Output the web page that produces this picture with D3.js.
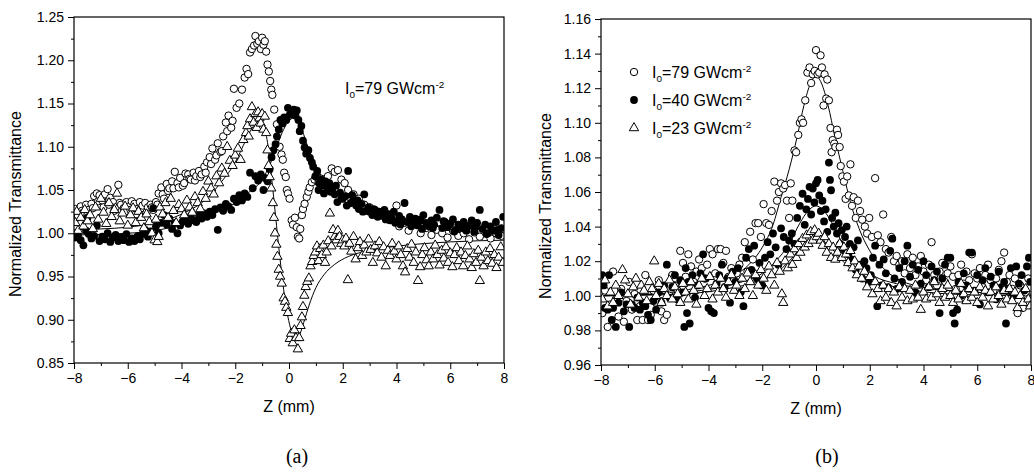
<!DOCTYPE html>
<html>
<head>
<meta charset="utf-8">
<title>Z-scan</title>
<script src="https://cdn.jsdelivr.net/npm/d3@7"></script>
<style>
  body { margin: 0; background: #fff; }
  text { font-family: Arial, "Liberation Sans", sans-serif; fill: #000; }
</style>
</head>
<body>
<script>
// ---- panel (a) data: [z in mm, normalized transmittance] ----
var a79 = [[-7.95,1.028],[-7.9,1.018],[-7.85,1.020],[-7.75,1.031],[-7.7,1.026],[-7.65,1.024],[-7.55,1.033],[-7.5,1.021],[-7.45,1.027],[-7.35,1.034],[-7.3,1.029],[-7.25,1.043],[-7.15,1.046],[-7.1,1.037],[-7.05,1.044],[-6.95,1.038],[-6.9,1.030],[-6.85,1.045],[-6.75,1.051],[-6.7,1.033],[-6.65,1.041],[-6.55,1.036],[-6.5,1.026],[-6.45,1.030],[-6.35,1.056],[-6.3,1.035],[-6.25,1.033],[-6.15,1.029],[-6.1,1.025],[-6.05,1.036],[-5.95,1.031],[-5.9,1.027],[-5.85,1.037],[-5.75,1.034],[-5.7,1.022],[-5.65,1.028],[-5.55,1.036],[-5.5,1.029],[-5.45,1.032],[-5.35,1.035],[-5.3,1.024],[-5.25,1.030],[-5.15,1.033],[-5.1,1.030],[-5.05,1.027],
  [-4.95,1.036],[-4.9,1.033],[-4.85,1.046],[-4.75,1.053],[-4.7,1.045],[-4.65,1.040],[-4.55,1.057],[-4.5,1.049],[-4.45,1.052],[-4.35,1.060],[-4.3,1.052],[-4.25,1.071],[-4.15,1.058],[-4.1,1.053],[-4.05,1.064],[-3.95,1.055],[-3.9,1.058],[-3.85,1.069],[-3.75,1.068],[-3.7,1.063],[-3.65,1.062],[-3.55,1.070],[-3.5,1.061],[-3.45,1.066],[-3.35,1.072],[-3.3,1.065],[-3.25,1.068],[-3.15,1.077],[-3.1,1.070],[-3.05,1.082],[-2.95,1.088],[-2.9,1.080],[-2.85,1.098],[-2.75,1.085],[-2.7,1.090],[-2.65,1.104],[-2.55,1.094],[-2.5,1.095],[-2.45,1.112],[-2.35,1.128],[-2.3,1.118],[-2.25,1.136],[-2.15,1.122],[-2.1,1.130],[-2.05,1.167],[-1.95,1.145],[-1.85,1.150],[-1.75,1.166],[-1.65,1.180],[-1.58,1.190],[-1.52,1.184],[-1.45,1.209],[-1.38,1.213],[-1.3,1.217],[-1.25,1.228],[-1.18,1.219],[-1.12,1.222],[-1.05,1.213],[-1.0,1.226],[-0.95,1.218],[-0.9,1.222],[-0.85,1.210],[-0.8,1.195],[-0.75,1.187],[-0.7,1.176],[-0.66,1.166],[-0.62,1.160],[-0.55,1.143],[-0.45,1.126],[-0.35,1.100],[-0.28,1.091],[-0.23,1.085],[-0.18,1.070],[-0.12,1.065],[-0.08,1.050],[-0.04,1.046],[0.02,1.040],[0.1,1.015],[0.15,1.010],[0.22,1.018],[0.29,1.007],[0.33,0.996],[0.38,0.994],[0.42,1.005],[0.48,1.021],[0.52,1.028],[0.58,1.034],[0.66,1.042],[0.72,1.048],[0.77,1.053],[0.85,1.059],[0.95,1.062],[1.03,1.065],[1.1,1.059],[1.2,1.063],[1.3,1.060],[1.45,1.066],[1.59,1.075],[1.7,1.071],[1.82,1.073],[1.95,1.062],[2.07,1.058],[2.2,1.050],[2.4,1.045],[2.6,1.040],[2.8,1.033],[3.0,1.030],[3.2,1.026],[3.4,1.024],[3.6,1.022],[3.8,1.020],[4.0,1.032],[4.1,1.008],[4.2,1.015],[4.3,1.012],[4.45,1.003],[4.6,1.010],[4.75,1.010],[4.9,1.000],[5.1,1.006],[5.3,0.998],[5.5,1.004],[5.7,1.000],[5.9,0.995],[6.1,1.003],[6.3,0.997],[6.5,1.000],[6.7,0.993],[6.9,1.001],[7.1,0.996],[7.3,1.004],[7.5,0.994],[7.7,1.000],[7.9,0.997]];

var a40 = [[-7.95,0.995],[-7.85,0.998],[-7.75,0.992],[-7.65,0.986],[-7.55,1.003],[-7.5,1.018],[-7.45,0.999],[-7.35,0.994],[-7.25,0.997],[-7.15,1.009],[-7.05,0.991],[-6.95,0.996],[-6.85,0.993],[-6.75,1.000],[-6.65,0.990],[-6.55,0.995],[-6.45,0.998],[-6.35,0.991],[-6.25,0.995],[-6.15,0.992],[-6.05,0.999],[-5.95,0.990],[-5.85,0.994],[-5.75,0.991],[-5.65,0.996],[-5.55,0.993],[-5.45,0.999],[-5.35,1.004],[-5.25,0.996],[-5.15,1.002],[-5.05,1.029],[-4.95,1.008],[-4.85,1.000],[-4.75,1.012],[-4.65,1.021],[-4.55,1.010],[-4.45,1.017],[-4.35,1.005],[-4.25,1.012],[-4.15,1.000],[-4.05,1.009],[-3.95,1.014],[-3.85,1.018],[-3.75,1.011],[-3.65,1.020],[-3.55,1.015],[-3.45,1.013],[-3.35,1.021],[-3.25,1.017],[-3.15,1.023],[-3.05,1.019],[-2.95,1.025],[-2.85,1.021],[-2.75,1.028],[-2.65,1.004],[-2.55,1.030],[-2.45,1.026],[-2.35,1.034],[-2.25,1.031],[-2.15,1.027],[-2.05,1.040],[-1.95,1.036],[-1.85,1.044],[-1.75,1.038],[-1.65,1.046],[-1.55,1.042],[-1.45,1.070],[-1.35,1.052],[-1.25,1.066],[-1.15,1.061],[-1.05,1.068],[-0.95,1.050],[-0.9,1.064],[-0.8,1.060],[-0.72,1.074],[-0.65,1.088],[-0.58,1.096],[-0.5,1.103],[-0.45,1.112],[-0.38,1.120],[-0.32,1.131],[-0.25,1.127],[-0.18,1.134],[-0.1,1.131],[-0.04,1.145],[0.03,1.137],[0.1,1.140],[0.18,1.143],[0.24,1.136],[0.29,1.142],[0.35,1.131],[0.4,1.118],[0.46,1.124],[0.52,1.107],[0.58,1.099],[0.64,1.092],[0.72,1.096],[0.78,1.087],[0.85,1.082],[0.9,1.077],[0.98,1.066],[1.05,1.072],[1.1,1.050],[1.12,1.058],[1.2,1.062],[1.28,1.055],[1.3,1.046],[1.36,1.060],[1.45,1.050],[1.5,1.058],[1.55,1.048],[1.62,1.053],[1.7,1.045],[1.75,1.055],[1.8,1.036],[1.9,1.047],[1.95,1.040],[2.0,1.040],[2.1,1.043],[2.15,1.032],[2.2,1.072],[2.3,1.035],[2.35,1.044],[2.4,1.038],[2.5,1.032],[2.55,1.038],[2.6,1.028],[2.7,1.034],[2.75,1.025],[2.8,1.045],[2.9,1.026],[2.95,1.030],[3.0,1.025],[3.1,1.021],[3.15,1.028],[3.2,1.027],[3.3,1.019],[3.35,1.025],[3.4,1.024],[3.5,1.020],[3.55,1.027],[3.6,1.016],[3.7,1.022],[3.75,1.015],[3.8,1.018],[3.9,1.025],[3.95,1.012],[4.0,1.014],[4.1,1.020],[4.15,1.010],[4.2,1.016],[4.3,1.035],[4.4,1.013],[4.5,1.019],[4.55,1.008],[4.6,1.011],[4.7,1.017],[4.8,1.009],[4.9,1.016],[4.95,1.005],[5.0,1.021],[5.1,1.012],[5.2,1.008],[5.3,1.015],[5.35,1.006],[5.4,1.010],[5.5,1.018],[5.6,1.027],[5.7,1.006],[5.75,1.014],[5.8,1.013],[5.9,1.007],[6.0,1.011],[6.1,1.016],[6.15,1.002],[6.2,1.004],[6.3,1.010],[6.4,1.006],[6.5,1.013],[6.55,1.005],[6.6,1.003],[6.7,1.009],[6.8,1.015],[6.9,1.002],[6.95,1.008],[7.0,1.012],[7.1,1.027],[7.2,1.005],[7.3,1.010],[7.35,0.999],[7.4,1.000],[7.5,1.008],[7.6,1.003],[7.7,1.013],[7.75,1.004],[7.8,0.998],[7.9,1.006],[7.97,1.019]];

var a23 = [[-7.95,1.012],[-7.9,1.025],[-7.85,1.003],[-7.75,1.018],[-7.65,1.008],[-7.6,1.027],[-7.5,1.014],[-7.4,1.021],[-7.3,1.005],[-7.2,1.030],[-7.1,1.016],[-7.0,1.040],[-6.9,1.024],[-6.8,1.011],[-6.7,1.035],[-6.6,1.019],[-6.5,1.027],[-6.4,1.046],[-6.3,1.014],[-6.2,1.023],[-6.1,1.031],[-6.0,1.009],[-5.9,1.021],[-5.8,1.029],[-5.7,1.012],[-5.6,1.025],[-5.5,1.018],[-5.4,1.006],[-5.3,1.022],[-5.2,1.013],[-5.1,1.000],[-5.0,0.992],[-4.95,1.016],[-4.9,0.990],[-4.85,0.996],[-4.8,1.030],[-4.7,1.022],[-4.6,1.035],[-4.5,1.018],[-4.4,1.040],[-4.3,1.026],[-4.2,1.012],[-4.1,1.033],[-4.0,1.028],[-3.9,1.021],[-3.8,1.038],[-3.7,1.030],[-3.6,1.024],[-3.5,1.042],[-3.4,1.035],[-3.3,1.028],[-3.2,1.048],[-3.1,1.040],[-3.0,1.060],[-2.9,1.052],[-2.8,1.045],[-2.7,1.066],[-2.6,1.058],[-2.5,1.075],[-2.4,1.069],[-2.3,1.100],[-2.2,1.084],[-2.1,1.078],[-2.0,1.090],[-1.9,1.098],[-1.8,1.085],[-1.7,1.108],[-1.6,1.116],[-1.55,1.124],[-1.5,1.112],[-1.45,1.132],[-1.38,1.146],[-1.32,1.128],[-1.25,1.138],[-1.2,1.122],[-1.15,1.140],[-1.1,1.133],[-1.05,1.127],[-1.0,1.138],[-0.95,1.120],[-0.9,1.135],[-0.85,1.116],[-0.8,1.096],[-0.76,1.078],[-0.72,1.065],[-0.66,1.052],[-0.6,1.035],[-0.56,1.018],[-0.52,1.000],[-0.47,0.987],[-0.43,0.973],[-0.38,0.958],[-0.33,0.950],[-0.27,0.942],[-0.2,0.925],[-0.15,0.921],[-0.1,0.914],[-0.04,0.908],[0.03,0.878],[0.08,0.884],[0.14,0.873],[0.2,0.888],[0.26,0.879],[0.33,0.866],[0.38,0.879],[0.43,0.893],[0.48,0.903],[0.52,0.915],[0.57,0.928],[0.62,0.938],[0.68,0.944],[0.74,0.948],[0.8,0.962],[0.86,0.967],[0.92,0.974],[0.98,0.978],[1.04,0.985],[1.1,0.968],[1.16,0.982],[1.22,0.975],[1.28,0.986],[1.34,0.966],[1.4,0.978],[1.46,0.991],[1.52,1.023],[1.58,0.985],[1.64,1.004],[1.7,0.996],[1.76,0.992],[1.82,1.003],[1.88,0.996],[1.94,0.988],[2.0,0.992],[2.06,0.985],[2.12,0.994],[2.19,0.946],[2.25,0.988],[2.32,0.979],[2.4,0.996],[2.48,0.970],[2.56,0.983],[2.64,0.990],[2.72,0.974],[2.8,0.986],[2.88,0.978],[2.96,0.993],[3.04,0.981],[3.12,0.966],[3.2,0.985],[3.28,0.977],[3.36,0.990],[3.44,0.972],[3.52,0.984],[3.6,0.962],[3.68,0.980],[3.76,0.974],[3.84,0.988],[3.92,0.979],[4.0,0.970],[4.08,0.985],[4.16,0.975],[4.24,0.962],[4.32,0.955],[4.4,0.982],[4.48,0.972],[4.56,0.987],[4.64,0.966],[4.72,0.978],[4.8,0.945],[4.88,0.961],[4.96,0.975],[5.04,0.983],[5.12,0.969],[5.2,0.962],[5.28,0.978],[5.36,0.970],[5.44,0.986],[5.52,0.975],[5.6,0.963],[5.68,0.980],[5.76,0.971],[5.84,0.984],[5.92,0.966],[6.0,0.977],[6.08,0.961],[6.16,0.975],[6.24,0.983],[6.32,0.968],[6.4,0.978],[6.48,0.962],[6.56,0.974],[6.64,0.985],[6.72,0.970],[6.8,0.960],[6.88,0.976],[6.96,0.966],[7.04,0.980],[7.1,0.945],[7.16,0.972],[7.24,0.962],[7.32,0.978],[7.4,0.968],[7.48,0.982],[7.56,0.965],[7.64,0.975],[7.72,0.960],[7.8,0.972],[7.88,0.984],[7.96,0.966]];

// fitted curves, panel (a)
var fitA40 = [[-8,0.998],[-6,1.000],[-5,1.003],[-4,1.010],[-3,1.020],[-2,1.035],[-1.5,1.047],[-1,1.062],[-0.7,1.080],[-0.4,1.105],[-0.2,1.120],[0,1.130],[0.15,1.133],[0.3,1.130],[0.5,1.118],[0.7,1.100],[1.0,1.078],[1.3,1.062],[1.7,1.050],[2.2,1.038],[3,1.026],[4,1.017],[5,1.011],[6,1.007],[8,1.003]];
var fitA23 = [[-8,1.004],[-7,1.005],[-6,1.007],[-5,1.012],[-4,1.022],[-3,1.042],[-2.5,1.060],[-2,1.082],[-1.6,1.108],[-1.3,1.125],[-1.1,1.130],[-0.95,1.125],[-0.8,1.105],[-0.65,1.065],[-0.5,1.020],[-0.35,0.975],[-0.2,0.935],[-0.05,0.905],[0.1,0.886],[0.25,0.878],[0.4,0.883],[0.55,0.897],[0.75,0.917],[1.0,0.937],[1.3,0.952],[1.7,0.964],[2.2,0.973],[3,0.980],[4,0.985],[5,0.988],[6,0.990],[8,0.992]];

// ---- panel (b) data ----
var b79 = [[-7.95,0.990],[-7.85,1.003],[-7.75,0.982],[-7.65,0.995],[-7.55,1.014],[-7.45,0.998],[-7.35,0.988],[-7.25,1.004],[-7.15,0.985],[-7.05,0.997],[-6.95,1.008],[-6.85,0.992],[-6.75,1.001],[-6.65,0.986],[-6.55,0.994],[-6.45,0.986],[-6.35,1.012],[-6.25,0.986],[-6.15,0.989],[-6.05,1.003],[-5.95,0.996],[-5.85,1.009],[-5.75,0.991],[-5.65,0.986],[-5.55,0.989],[-5.45,1.000],[-5.35,1.012],[-5.25,1.006],[-5.15,1.003],[-5.05,1.026],[-4.95,1.019],[-4.85,1.011],[-4.75,1.024],[-4.65,1.017],[-4.55,1.008],[-4.45,1.014],[-4.35,1.021],[-4.25,1.016],[-4.15,1.010],[-4.05,1.018],[-3.95,1.027],[-3.85,1.024],[-3.75,1.013],[-3.65,1.027],[-3.55,1.027],[-3.45,1.019],[-3.35,1.026],[-3.25,1.011],[-3.15,1.016],[-3.05,1.009],[-2.95,1.013],[-2.85,1.018],[-2.75,1.022],[-2.65,1.031],[-2.55,1.014],[-2.45,1.037],[-2.35,1.021],[-2.25,1.042],[-2.15,1.042],[-2.05,1.034],[-1.95,1.053],[-1.85,1.042],[-1.75,1.041],[-1.65,1.049],[-1.55,1.066],[-1.45,1.055],[-1.38,1.060],[-1.3,1.065],[-1.22,1.062],[-1.15,1.064],[-1.08,1.055],[-1.0,1.045],[-0.94,1.065],[-0.88,1.055],[-0.8,1.084],[-0.74,1.083],[-0.66,1.093],[-0.6,1.100],[-0.54,1.102],[-0.48,1.100],[-0.4,1.113],[-0.32,1.129],[-0.24,1.132],[-0.18,1.123],[-0.12,1.128],[-0.05,1.130],[0.0,1.142],[0.06,1.128],[0.12,1.129],[0.17,1.139],[0.22,1.132],[0.28,1.110],[0.32,1.128],[0.38,1.114],[0.42,1.125],[0.48,1.113],[0.54,1.097],[0.58,1.083],[0.62,1.090],[0.68,1.088],[0.72,1.086],[0.78,1.096],[0.82,1.093],[0.88,1.086],[0.92,1.075],[0.98,1.069],[1.04,1.066],[1.1,1.056],[1.16,1.069],[1.22,1.058],[1.28,1.076],[1.34,1.052],[1.4,1.057],[1.48,1.045],[1.56,1.055],[1.64,1.049],[1.72,1.044],[1.82,1.040],[1.9,1.036],[1.98,1.045],[2.08,1.034],[2.2,1.068],[2.3,1.035],[2.4,1.031],[2.5,1.047],[2.6,1.027],[2.7,1.025],[2.8,1.034],[2.9,1.020],[3.0,1.023],[3.1,1.018],[3.2,1.020],[3.3,1.013],[3.4,1.024],[3.5,1.016],[3.6,1.022],[3.7,1.012],[3.8,1.017],[3.9,1.023],[4.0,1.014],[4.1,1.009],[4.2,1.018],[4.3,1.031],[4.4,1.012],[4.5,1.006],[4.6,1.014],[4.7,1.019],[4.8,1.008],[4.9,1.013],[5.0,1.017],[5.1,1.011],[5.2,1.004],[5.3,1.012],[5.4,1.018],[5.5,1.007],[5.6,1.014],[5.7,1.009],[5.8,1.024],[5.9,1.013],[6.0,1.010],[6.1,1.016],[6.2,1.005],[6.3,1.012],[6.4,1.018],[6.5,1.009],[6.6,1.003],[6.7,1.010],[6.8,1.015],[6.9,1.020],[7.0,1.025],[7.1,1.008],[7.2,1.012],[7.3,1.004],[7.4,1.010],[7.5,0.990],[7.6,1.006],[7.7,0.993],[7.8,1.002],[7.9,1.010]];

var b40 = [[-7.95,1.012],[-7.9,1.006],[-7.85,0.993],[-7.75,0.992],[-7.7,1.012],[-7.6,0.986],[-7.55,0.993],[-7.45,0.982],[-7.35,0.996],[-7.25,1.002],[-7.15,0.991],[-7.05,0.995],[-6.95,0.982],[-6.85,0.995],[-6.75,0.993],[-6.65,0.999],[-6.55,0.992],[-6.45,0.996],[-6.35,0.994],[-6.25,0.989],[-6.15,0.986],[-6.05,0.997],[-5.95,0.992],[-5.85,1.002],[-5.75,0.996],[-5.65,1.006],[-5.55,1.018],[-5.45,0.999],[-5.35,1.005],[-5.25,1.012],[-5.15,0.998],[-5.05,1.009],[-4.95,1.002],[-4.9,0.982],[-4.85,1.016],[-4.8,0.990],[-4.75,1.008],[-4.7,0.984],[-4.6,1.012],[-4.5,0.999],[-4.4,1.006],[-4.3,1.013],[-4.2,1.024],[-4.1,1.010],[-4.0,0.993],[-3.9,0.991],[-3.8,0.990],[-3.7,1.007],[-3.6,1.012],[-3.5,1.018],[-3.4,1.005],[-3.3,1.010],[-3.2,0.996],[-3.1,1.014],[-3.0,1.008],[-2.9,1.016],[-2.8,1.002],[-2.7,0.994],[-2.6,1.022],[-2.5,1.027],[-2.4,1.015],[-2.3,1.029],[-2.2,1.010],[-2.1,1.019],[-2.0,1.006],[-1.9,1.022],[-1.8,1.031],[-1.7,1.024],[-1.6,1.036],[-1.5,1.028],[-1.4,1.018],[-1.3,1.039],[-1.2,1.034],[-1.1,1.027],[-1.0,1.032],[-0.9,1.036],[-0.8,1.030],[-0.7,1.045],[-0.6,1.052],[-0.5,1.059],[-0.42,1.041],[-0.36,1.050],[-0.3,1.056],[-0.24,1.063],[-0.18,1.047],[-0.12,1.062],[-0.06,1.054],[0.0,1.065],[0.06,1.067],[0.12,1.058],[0.18,1.049],[0.24,1.055],[0.3,1.043],[0.36,1.050],[0.42,1.037],[0.48,1.077],[0.52,1.067],[0.56,1.061],[0.6,1.045],[0.66,1.040],[0.72,1.048],[0.78,1.036],[0.84,1.042],[0.9,1.030],[0.96,1.038],[1.02,1.027],[1.08,1.034],[1.14,1.040],[1.2,1.024],[1.26,1.030],[1.32,1.021],[1.4,1.028],[1.48,1.015],[1.56,1.032],[1.64,1.018],[1.72,1.010],[1.8,1.020],[1.88,1.016],[1.96,1.008],[2.04,1.012],[2.12,1.022],[2.2,1.029],[2.28,0.994],[2.36,1.018],[2.44,1.006],[2.52,1.021],[2.6,1.013],[2.68,1.005],[2.76,1.026],[2.84,1.033],[2.92,1.010],[3.0,1.004],[3.1,1.016],[3.2,1.008],[3.3,1.020],[3.4,1.029],[3.5,1.011],[3.6,1.018],[3.7,1.002],[3.8,1.015],[3.9,1.007],[4.0,1.020],[4.1,1.012],[4.2,1.005],[4.3,1.017],[4.4,1.009],[4.5,1.014],[4.6,0.990],[4.7,1.010],[4.8,1.018],[4.9,1.022],[5.0,1.022],[5.1,0.990],[5.16,0.984],[5.25,0.992],[5.3,1.008],[5.4,1.000],[5.5,1.013],[5.6,1.006],[5.7,1.025],[5.8,1.025],[5.9,1.003],[6.0,1.012],[6.1,0.995],[6.2,1.009],[6.3,1.016],[6.4,1.002],[6.5,1.011],[6.6,1.006],[6.7,0.998],[6.8,1.014],[6.9,1.005],[7.0,1.008],[7.07,0.984],[7.15,1.004],[7.25,1.016],[7.35,1.000],[7.45,1.017],[7.55,1.007],[7.65,1.012],[7.75,1.003],[7.85,1.017],[7.92,1.022],[7.97,1.008]];

var b23 = [[-7.95,0.998],[-7.85,1.009],[-7.75,0.994],[-7.65,1.002],[-7.55,0.996],[-7.45,1.006],[-7.35,1.000],[-7.2,1.015],[-7.1,1.009],[-7.0,1.001],[-6.9,0.995],[-6.8,1.005],[-6.7,1.010],[-6.6,0.999],[-6.5,1.006],[-6.4,1.003],[-6.3,0.997],[-6.2,1.008],[-6.1,1.004],[-6.02,1.020],[-5.95,1.000],[-5.85,1.007],[-5.75,0.996],[-5.65,1.004],[-5.55,1.000],[-5.45,1.009],[-5.35,0.998],[-5.25,1.005],[-5.15,1.001],[-5.05,0.996],[-4.95,1.007],[-4.85,1.002],[-4.75,0.998],[-4.65,1.008],[-4.55,1.003],[-4.45,0.995],[-4.35,1.006],[-4.25,1.010],[-4.15,1.000],[-4.05,1.004],[-3.95,1.011],[-3.85,0.998],[-3.75,1.006],[-3.65,1.002],[-3.55,1.010],[-3.45,1.004],[-3.35,0.999],[-3.25,1.008],[-3.15,1.012],[-3.05,1.003],[-2.95,1.006],[-2.85,1.000],[-2.75,1.010],[-2.65,1.004],[-2.55,1.013],[-2.45,1.008],[-2.35,1.000],[-2.25,1.012],[-2.15,1.006],[-2.05,1.015],[-1.95,1.010],[-1.85,1.003],[-1.75,1.017],[-1.65,1.012],[-1.55,1.006],[-1.45,1.019],[-1.35,1.014],[-1.27,1.001],[-1.22,0.996],[-1.15,1.020],[-1.05,1.016],[-0.95,1.024],[-0.88,1.018],[-0.8,1.027],[-0.72,1.022],[-0.65,1.030],[-0.58,1.025],[-0.5,1.033],[-0.42,1.028],[-0.35,1.035],[-0.28,1.030],[-0.2,1.037],[-0.12,1.032],[-0.05,1.038],[0.03,1.034],[0.1,1.036],[0.18,1.032],[0.25,1.029],[0.32,1.034],[0.4,1.025],[0.48,1.030],[0.56,1.022],[0.64,1.028],[0.72,1.021],[0.8,1.025],[0.88,1.030],[0.96,1.022],[1.04,1.028],[1.12,1.024],[1.2,1.019],[1.28,1.026],[1.36,1.016],[1.44,1.020],[1.52,1.012],[1.6,1.017],[1.7,1.010],[1.8,1.014],[1.9,1.005],[2.0,1.011],[2.1,1.001],[2.2,1.008],[2.3,1.004],[2.4,0.997],[2.5,1.006],[2.6,0.999],[2.7,1.004],[2.8,0.996],[2.9,1.002],[3.0,0.994],[3.1,1.005],[3.2,0.999],[3.3,1.004],[3.4,0.997],[3.5,1.003],[3.6,0.998],[3.7,1.006],[3.8,0.999],[3.9,0.992],[4.0,1.002],[4.1,0.998],[4.2,1.005],[4.3,0.999],[4.4,1.008],[4.5,1.001],[4.6,0.996],[4.7,1.004],[4.8,0.999],[4.9,1.006],[5.0,1.000],[5.1,0.996],[5.2,1.003],[5.3,0.998],[5.4,1.007],[5.5,1.001],[5.6,0.997],[5.7,1.004],[5.8,0.999],[5.9,1.002],[6.0,0.996],[6.1,1.005],[6.2,0.999],[6.3,1.003],[6.4,0.994],[6.5,1.002],[6.6,0.998],[6.7,1.005],[6.8,1.000],[6.9,0.995],[7.0,1.003],[7.1,0.998],[7.2,1.004],[7.3,0.997],[7.4,1.002],[7.5,0.993],[7.6,1.000],[7.7,0.996],[7.8,1.004],[7.9,0.998],[7.97,0.994]];

var fitB79 = [[-8,1.000],[-6,1.001],[-5,1.003],[-4,1.006],[-3,1.012],[-2.5,1.018],[-2,1.028],[-1.6,1.041],[-1.3,1.057],[-1,1.073],[-0.7,1.092],[-0.45,1.110],[-0.2,1.123],[0,1.127],[0.2,1.123],[0.45,1.110],[0.7,1.092],[1,1.072],[1.3,1.053],[1.6,1.039],[2,1.026],[2.5,1.016],[3,1.010],[4,1.005],[5,1.003],[6,1.002],[8,1.000]];
var fitB40 = [[-8,1.000],[-5,1.002],[-3,1.007],[-2,1.013],[-1.5,1.020],[-1,1.030],[-0.6,1.042],[-0.3,1.049],[0,1.052],[0.3,1.049],[0.6,1.042],[1,1.030],[1.5,1.020],[2,1.013],[3,1.007],[5,1.003],[8,1.001]];
var fitB23 = [[-8,1.000],[-5,1.001],[-3,1.005],[-2,1.009],[-1.5,1.013],[-1,1.020],[-0.6,1.027],[-0.3,1.031],[0,1.033],[0.3,1.031],[0.6,1.027],[1,1.020],[1.5,1.013],[2,1.009],[3,1.005],[5,1.001],[8,1.000]];

var zTicks = [-8, -6, -4, -2, 0, 2, 4, 6, 8];
var yTicksA = [0.85, 0.90, 0.95, 1.00, 1.05, 1.10, 1.15, 1.20, 1.25];
var yTicksB = [0.96, 0.98, 1.00, 1.02, 1.04, 1.06, 1.08, 1.10, 1.12, 1.14, 1.16];
var legendLabels = ["79", "40", "23"];

var svg = d3.select("body").append("svg")
  .attr("width", 1034).attr("height", 473);

function intensity(g, x, y, val, size) {
  var t = g.append("text").attr("x", x).attr("y", y).style("font-size", size + "px");
  t.append("tspan").text("I");
  t.append("tspan").attr("dy", 4).style("font-size", (size * 0.62) + "px").text("0");
  t.append("tspan").attr("dy", -4).text("=" + val + " GWcm");
  t.append("tspan").attr("dy", -6).style("font-size", (size * 0.62) + "px").text("-2");
}

function drawPanel(p) {
  var x = d3.scaleLinear().domain([-8, 8]).range([p.left, p.right]);
  var y = d3.scaleLinear().domain(p.yDomain).range([p.bottom, p.top]);
  var g = svg.append("g");

  var clipId = "clip" + p.name;
  svg.append("clipPath").attr("id", clipId).append("rect")
    .attr("x", p.left).attr("y", p.top)
    .attr("width", p.right - p.left).attr("height", p.bottom - p.top);

  var plot = g.append("g").attr("clip-path", "url(#" + clipId + ")");

  var line = d3.line().x(function(d){ return x(d[0]); }).y(function(d){ return y(d[1]); })
    .curve(d3.curveMonotoneX);
  p.fits.forEach(function(f){
    plot.append("path").attr("d", line(f)).attr("fill", "none")
      .attr("stroke", "#000").attr("stroke-width", 1);
  });

  var tri = d3.symbol().type(d3.symbolTriangle).size(38);
  // open circles, filled circles, triangles
  plot.selectAll(".o").data(p.open).enter().append("circle")
    .attr("cx", function(d){ return x(d[0]); }).attr("cy", function(d){ return y(d[1]); })
    .attr("r", 3.7).attr("fill", "#fff").attr("stroke", "#000").attr("stroke-width", 1);
  plot.selectAll(".f").data(p.filled).enter().append("circle")
    .attr("cx", function(d){ return x(d[0]); }).attr("cy", function(d){ return y(d[1]); })
    .attr("r", 3.9).attr("fill", "#000");
  plot.selectAll(".t").data(p.tri).enter().append("path")
    .attr("d", tri)
    .attr("transform", function(d){ return "translate(" + x(d[0]) + "," + y(d[1]) + ")"; })
    .attr("fill", "#fff").attr("stroke", "#000").attr("stroke-width", 1);

  // axes
  var xAxis = d3.axisBottom(x).tickValues(zTicks).tickSize(6).tickPadding(4)
    .tickFormat(d3.format("d"));
  var xMinor = d3.axisBottom(x).tickValues(d3.range(-7, 8, 2)).tickSize(3).tickFormat("");
  var yAxis = d3.axisLeft(y).tickValues(p.yTicks).tickSize(6).tickPadding(4)
    .tickFormat(d3.format(".2f"));
  var yMinor = d3.axisLeft(y).tickValues(p.yMinor).tickSize(3).tickFormat("");

  [xAxis, xMinor].forEach(function(a){
    g.append("g").attr("transform", "translate(0," + p.bottom + ")").call(a)
      .call(function(s){ s.select(".domain").remove(); s.selectAll("text").style("font-size", "14px"); });
  });
  [yAxis, yMinor].forEach(function(a){
    g.append("g").attr("transform", "translate(" + p.left + ",0)").call(a)
      .call(function(s){ s.select(".domain").remove(); s.selectAll("text").style("font-size", "14px"); });
  });
  g.selectAll(".tick line").attr("stroke", "#000");

  g.append("rect").attr("x", p.left).attr("y", p.top)
    .attr("width", p.right - p.left).attr("height", p.bottom - p.top)
    .attr("fill", "none").attr("stroke", "#000").attr("stroke-width", 1.2);

  g.append("text").attr("x", (p.left + p.right) / 2).attr("y", p.bottom + 49)
    .attr("text-anchor", "middle").style("font-size", "16px").text("Z (mm)");
  g.append("text").attr("transform", "translate(" + p.yTitleX + "," + ((p.top + p.bottom) / 2 + 14) + ") rotate(-90)")
    .attr("text-anchor", "middle").style("font-size", "16px").text("Normalized Transmittance");
  g.append("text").attr("x", p.capX).attr("y", 463)
    .attr("text-anchor", "middle").style("font-family", "'Times New Roman', 'Liberation Serif', serif")
    .style("font-size", "20px").text(p.caption);
  return { g: g, x: x, y: y };
}

var pa = drawPanel({
  name: "a", left: 74, right: 504, top: 17, bottom: 363,
  yDomain: [0.85, 1.25], yTicks: yTicksA, yMinor: d3.range(0, 8).map(function(i){ return yTicksA[i] + 0.025; }),
  open: a79, filled: a40, tri: a23, fits: [fitA40, fitA23],
  yTitleX: 21, capX: 297, caption: "(a)"
});
intensity(pa.g, 345, 94, "79", 16);

var pb = drawPanel({
  name: "b", left: 601, right: 1031, top: 19, bottom: 365,
  yDomain: [0.96, 1.16], yTicks: yTicksB, yMinor: d3.range(0, 10).map(function(i){ return yTicksB[i] + 0.01; }),
  open: b79, filled: b40, tri: b23, fits: [fitB79, fitB40, fitB23],
  yTitleX: 551, capX: 827, caption: "(b)"
});

// legend, panel (b)
var legY = [72, 100, 128];
var leg = pb.g.append("g");
leg.append("circle").attr("cx", 634).attr("cy", legY[0]).attr("r", 3.7)
  .attr("fill", "#fff").attr("stroke", "#000");
leg.append("circle").attr("cx", 634).attr("cy", legY[1]).attr("r", 3.9).attr("fill", "#000");
leg.append("path").attr("d", d3.symbol().type(d3.symbolTriangle).size(38))
  .attr("transform", "translate(634," + legY[2] + ")")
  .attr("fill", "#fff").attr("stroke", "#000");
legendLabels.forEach(function(v, i){ intensity(leg, 652, legY[i] + 6, v, 16); });
</script>
</body>
</html>
